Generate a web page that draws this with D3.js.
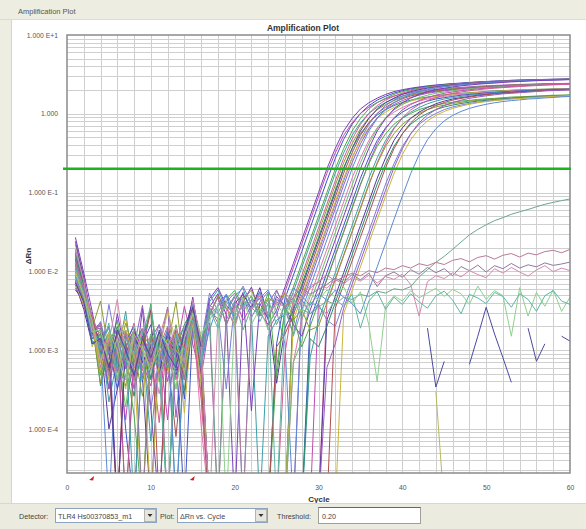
<!DOCTYPE html>
<html><head><meta charset="utf-8">
<script src="https://cdn.jsdelivr.net/npm/d3@7"></script>
<style>
html,body{margin:0;padding:0;background:#fff;}
svg{display:block;font-family:"Liberation Sans",Arial,sans-serif;}
</style></head><body>
<svg id="chart" width="586" height="529"></svg>
<script>
// ---------------- DATA ----------------
const xTicks = [0, 10, 20, 30, 40, 50, 60];
const yTickValues = [10, 1, 0.1, 0.01, 0.001, 0.0001];
const yTickLabels = ["1.000 E+1", "1.000", "1.000 E-1", "1.000 E-2", "1.000 E-3", "1.000 E-4"];
const threshold = 0.20;
const baselineStart = 3, baselineEnd = 15;
const detectorName = "TLR4 Hs00370853_m1";
const plotType = "\u0394Rn vs. Cycle";

// baseline ΔRn, cycles 1-16 (one row per well; 1e-5 = negative, below the axis)
const baseNoise = [
[.027,.0095,.0031,.0009,.0016,1e-5,.0011,.00042,.0034,.00018,1e-5,.0013,.00055,.0009,.0032,.0007],
[.014,.0061,.0022,.0012,.00032,.0017,.0001,1e-5,.0012,.0021,.0005,.0008,.0016,.00024,.0038,.0011],
[.0095,.0048,.0018,.0022,.0006,.0009,.00013,.0014,.0007,.00035,.0015,1e-5,.0009,.0036,.0012,.00045],
[.018,.0072,.0026,.00048,.0011,.0024,.0007,.00015,1e-5,.0016,.0008,.00055,.0021,.0007,.0045,.0006],
[.012,.0055,.0014,.0017,.00022,.0008,.0031,.00048,.0013,.00007,.001,.0018,1e-5,.0012,.0028,.0009],
[.0075,.0042,.0027,.0007,.0014,.0004,.0011,.0022,.00055,.001,.00012,.0015,.0006,.0013,.002,.00028],
[.022,.0082,.0019,.0042,.0009,.0016,1e-5,.0007,.0016,.0011,.00052,.001,.00032,.0017,.0041,.0014],
[.0068,.0033,.0012,.0014,.0001,.00032,.0009,.0017,.00045,1e-5,.0014,.0007,.0011,.00042,.0022,.0007],
[.011,.0047,.0023,.00035,.001,.002,.0008,.00026,.0013,.0033,.0006,1e-5,.001,.0021,.0033,.001],
[.016,.0066,.0016,.0018,.0007,1e-5,.0017,.001,.0006,.0014,.0021,.0008,.00008,.0011,.0019,.00048],
[.0088,.0039,.002,.0008,.0038,.001,.00042,.0018,.0009,.00018,.0008,.0016,.0012,.0006,.0042,.0012],
[.013,.0058,.0011,.0019,.00042,.0012,.0025,.0006,1e-5,.0011,.0015,.0005,.0018,.00016,.003,.00035],
[.0062,.0037,.0022,.0009,.0013,.00055,.0012,.00032,.0017,.0007,.001,.0035,.00014,.0015,.0026,.0009],
[.019,.0075,.0025,.0011,1e-5,.0015,.0006,.0019,.0008,.00045,.0013,.0007,.0016,.00052,.0037,.0007],
[.0105,.0044,.0016,.0021,.0009,.00042,.0018,.0008,.0015,.0009,.00028,.0012,.00058,.0019,.0031,.00011],
[.0082,.0052,.0019,.00052,.0016,.001,.00019,.0012,.0006,.0016,.001,1e-5,.0013,.0007,.0023,.00042],
[.024,.0083,.0022,.0013,.0006,.0029,.0009,.00045,.0015,.00055,.0018,.0009,.00048,.0012,.0047,.001],
[.0071,.004,.0014,.0016,.0011,.00032,.0013,.002,.0004,.0012,.0007,.0015,.001,1e-5,.0021,.0008],
[.0125,.0049,.0028,.0006,.0012,.0018,1e-5,.0009,.0019,.0006,.0011,.00013,.0018,.001,.0029,.00058],
[.0092,.0057,.0012,.0016,.00048,.0012,.0018,.0007,.001,.0039,.0004,.0012,.0007,.0017,.0024,.0012],
[.015,.006,.0024,.0009,.0017,.0006,.0012,1e-5,.0011,.0008,.0017,.0006,.0013,.0008,.0036,.0007],
[.0078,.0036,.0017,.0021,.0007,.0015,.00045,.0013,.0009,.00055,.0011,.002,.00042,.0011,.0018,.00024],
[.0135,.0069,.0021,.00038,.0013,.0008,.0022,.001,.00026,.0015,.0008,.0011,.0041,.0006,.0027,.001],
[.0058,.0043,.0016,.0018,.001,1e-5,.0011,.0018,.0007,.0011,.0005,.0017,.0008,.0017,.0043,.00052],
[.017,.0065,.0012,.0013,.002,.0007,.00035,.0012,.0019,.00042,.0013,.0007,.0012,.0003,.0022,.0009],
[.0099,.0045,.0026,.001,.00055,.0017,.0012,.0006,.001,.0032,1e-5,.001,.0018,.0011,.0034,.00045],
[.0115,.0053,.0015,.0023,.0009,.0011,.0007,.0016,.00048,.001,.0021,.0008,.0006,.0019,.0016,.0012],
[.0069,.0038,.0021,.00055,.0016,.00042,.0018,.0008,.0014,1e-5,.0009,.0014,.001,.0007,.003,.0007],
[.0145,.0056,.0018,.0019,.00032,.0014,.00058,.0011,.0037,.0007,.0016,.0004,.0016,.0012,.0025,.0009],
[.0084,.0048,.0013,.0012,.0019,.0008,.0016,.00052,.0009,.0014,.0006,.0019,1e-5,.0009,.0039,.00058],
[.0105,.0042,.0023,.0008,.0011,.0019,.0007,.0013,.00042,.0016,.001,.00058,.0013,.002,.0028,.0013],
[.0125,.0063,.0027,.0014,.00048,.001,.0017,.0004,.0012,.0007,.0014,.0034,.0008,.00042,.0023,.001],
[.0076,.0045,.0019,.002,.001,.00052,.0011,.0018,1e-5,.001,.0017,.0007,.0012,.0016,.0032,.0008],
[.0185,.0076,.0021,.0007,.0013,.0044,.0008,.0006,.0019,.0012,.00045,.0011,.0019,.0007,.0044,.0012],
[.0094,.005,.0017,.0018,.0007,.0014,.00042,.002,.0011,.00052,.0016,.0012,.00032,.0014,.0029,.0016],
[.0112,.0054,.0022,.001,.0022,.0004,.0014,.0009,.0016,.0036,.0007,1e-5,.0016,.001,.0024,.0007],
[.0072,.0041,.0012,.0014,.0006,.0018,.001,.00048,.0014,.0008,.0017,.0009,.0006,.0017,.0035,.0011],
[.0101,.0048,.0024,.0007,.0017,.001,.00032,.0016,.001,.0006,.001,.0031,.0013,.00052,.0021,.0004]
];

// amplified wells: first cycle of the exponential part
const ampStart = [25,26,25,26,26,27,27,27,27,27,28,27,28,28,28,29,29,29,30,29,30,31,30,31,31,32,32,33,33,35];

// amplified wells: ΔRn from cycle 17 up to ampStart-1
const midNoise = [
[.0035,.0052,.0028,1e-5,.0041,.0063,.003,.0021],
[1e-5,1e-5,1e-5,1e-5,1e-5,1e-5,1e-5,1e-5,.0012],
[.0022,1e-5,.0031,.0047,.0024,.0036,.0055,.0018],
[1e-5,1e-5,1e-5,1e-5,1e-5,1e-5,1e-5,1e-5,.0006],
[.0041,.0058,.0033,.0049,.0061,.0029,1e-5,.0015,.0024],
[1e-5,1e-5,1e-5,1e-5,1e-5,1e-5,1e-5,1e-5,1e-5,.0009],
[1e-5,1e-5,1e-5,1e-5,1e-5,1e-5,1e-5,1e-5,1e-5,1e-5],
[.0029,.0047,.0021,.0039,.0051,.0034,.0062,.0027,.00038,.0019],
[1e-5,1e-5,1e-5,1e-5,1e-5,1e-5,1e-5,1e-5,1e-5,1e-5],
[1e-5,1e-5,1e-5,1e-5,1e-5,1e-5,1e-5,1e-5,.0011,.0016],
[.0053,.0031,.00032,.0042,.0065,.0038,.0045,.0024,.0057,.0033,.0016],
[1e-5,1e-5,1e-5,1e-5,1e-5,1e-5,1e-5,1e-5,1e-5,1e-5],
[1e-5,1e-5,1e-5,1e-5,1e-5,1e-5,1e-5,1e-5,1e-5,1e-5,1e-5],
[.0018,.0038,.0051,.0026,1e-5,.0033,.0046,.0058,.0031,.0012,1e-5],
[1e-5,1e-5,1e-5,1e-5,1e-5,1e-5,1e-5,1e-5,1e-5,1e-5,.0007],
[1e-5,1e-5,1e-5,1e-5,1e-5,1e-5,1e-5,1e-5,1e-5,1e-5,.0007,.0013],
[.0045,.0062,.0037,.0028,.0054,.00017,.0039,.0025,.0048,.0036,.0021,.0015],
[1e-5,1e-5,1e-5,1e-5,1e-5,1e-5,1e-5,1e-5,1e-5,1e-5,1e-5,1e-5],
[1e-5,1e-5,1e-5,1e-5,1e-5,1e-5,1e-5,1e-5,1e-5,1e-5,1e-5,1e-5,1e-5],
[.0032,.0025,.0044,.0057,.0036,.0049,.0028,.0053,.00045,.0034,.0026,.0011],
[1e-5,1e-5,1e-5,1e-5,1e-5,1e-5,1e-5,1e-5,1e-5,1e-5,1e-5,1e-5,.0008],
[1e-5,1e-5,1e-5,1e-5,1e-5,1e-5,1e-5,1e-5,1e-5,1e-5,1e-5,1e-5,1e-5,1e-5],
[.0027,.0049,.0034,.0021,.0043,.0058,.0031,.0046,.0039,.0052,.0024,.0033,.0018],
[1e-5,1e-5,1e-5,1e-5,1e-5,1e-5,1e-5,1e-5,1e-5,1e-5,1e-5,1e-5,1e-5,1e-5],
[1e-5,1e-5,1e-5,1e-5,1e-5,1e-5,1e-5,1e-5,1e-5,1e-5,1e-5,1e-5,.0014,.0011],
[1e-5,1e-5,1e-5,1e-5,1e-5,1e-5,1e-5,1e-5,1e-5,1e-5,1e-5,1e-5,1e-5,1e-5,1e-5],
[.0038,.0029,.0051,.0034,.0047,.0026,.0041,.0055,.0037,.0048,.0031,.0044,.0029,.0038,.0024],
[1e-5,1e-5,1e-5,1e-5,1e-5,1e-5,1e-5,1e-5,1e-5,1e-5,1e-5,1e-5,1e-5,1e-5,1e-5,1e-5],
[1e-5,1e-5,1e-5,1e-5,1e-5,1e-5,1e-5,1e-5,1e-5,1e-5,1e-5,1e-5,1e-5,1e-5,.0006,.0012],
[.0028,.0036,.0049,.0023,.0041,.0033,.0055,.0027,.0044,.0038,.0061,.0049,.0037,.0052,.0043,.0058,.0047,.0039]
];

// amplified wells: ΔRn from ampStart to cycle 60
const ampValues = [
[.0032,.0063,.0126,.0251,.0501,.1,.2,.363,.603,.871,1.15,1.38,1.58,1.76,1.91,2.02,2.11,2.19,2.26,2.32,2.37,2.42,2.45,2.5,2.54,2.57,2.6,2.63,2.66,2.68,2.69,2.71,2.73,2.74,2.75,2.77],
[.0045,.0089,.0178,.0355,.0708,.141,.272,.473,.733,1.01,1.27,1.49,1.67,1.83,1.96,2.07,2.15,2.23,2.29,2.35,2.4,2.44,2.48,2.52,2.56,2.59,2.62,2.65,2.67,2.69,2.7,2.72,2.74,2.75,2.76],
[.0028,.0055,.0111,.0221,.0441,.088,.176,.319,.531,.766,1.01,1.21,1.39,1.55,1.68,1.78,1.86,1.93,1.99,2.04,2.09,2.13,2.16,2.2,2.24,2.26,2.29,2.31,2.34,2.36,2.37,2.38,2.4,2.41,2.42,2.44],
[.0032,.0063,.0126,.0251,.0501,.1,.2,.363,.603,.871,1.15,1.38,1.58,1.76,1.91,2.02,2.11,2.19,2.26,2.32,2.37,2.42,2.45,2.5,2.54,2.57,2.6,2.63,2.66,2.68,2.69,2.71,2.73,2.74,2.75],
[.0028,.0055,.0111,.0221,.0441,.088,.176,.319,.531,.766,1.01,1.21,1.39,1.55,1.68,1.78,1.86,1.93,1.99,2.04,2.09,2.13,2.16,2.2,2.24,2.26,2.29,2.31,2.34,2.36,2.37,2.38,2.4,2.41,2.42],
[.0045,.0089,.0178,.0355,.0708,.141,.272,.473,.733,1.01,1.27,1.49,1.67,1.83,1.96,2.07,2.15,2.23,2.29,2.35,2.4,2.44,2.48,2.52,2.56,2.59,2.62,2.65,2.67,2.69,2.7,2.72,2.74,2.75],
[.004,.0078,.0157,.0312,.0623,.124,.239,.416,.645,.889,1.12,1.31,1.47,1.61,1.72,1.82,1.89,1.96,2.02,2.07,2.11,2.15,2.18,2.22,2.25,2.28,2.31,2.33,2.35,2.37,2.38,2.39,2.41,2.42],
[.0032,.0063,.0126,.0251,.0501,.1,.2,.363,.603,.871,1.15,1.38,1.58,1.76,1.91,2.02,2.11,2.19,2.26,2.32,2.37,2.42,2.45,2.5,2.54,2.57,2.6,2.63,2.66,2.68,2.69,2.71,2.73,2.74],
[.0034,.0068,.0135,.027,.0538,.107,.207,.359,.557,.768,.965,1.13,1.27,1.39,1.49,1.57,1.63,1.69,1.74,1.79,1.82,1.85,1.88,1.92,1.95,1.97,1.99,2.01,2.03,2.04,2.05,2.07,2.08,2.09],
[.0028,.0055,.0111,.0221,.0441,.088,.176,.319,.531,.766,1.01,1.21,1.39,1.55,1.68,1.78,1.86,1.93,1.99,2.04,2.09,2.13,2.16,2.2,2.24,2.26,2.29,2.31,2.34,2.36,2.37,2.38,2.4,2.41],
[.0045,.0089,.0178,.0355,.0708,.141,.272,.473,.733,1.01,1.27,1.49,1.67,1.83,1.96,2.07,2.15,2.23,2.29,2.35,2.4,2.44,2.48,2.52,2.56,2.59,2.62,2.65,2.67,2.69,2.7,2.72,2.74],
[.0024,.0048,.0096,.0191,.0381,.076,.152,.276,.458,.662,.874,1.05,1.2,1.34,1.45,1.54,1.6,1.66,1.72,1.76,1.8,1.84,1.86,1.9,1.93,1.95,1.98,2,2.02,2.04,2.04,2.06,2.07,2.08],
[.004,.0078,.0157,.0312,.0623,.124,.239,.416,.645,.889,1.12,1.31,1.47,1.61,1.72,1.82,1.89,1.96,2.02,2.07,2.11,2.15,2.18,2.22,2.25,2.28,2.31,2.33,2.35,2.37,2.38,2.39,2.41],
[.0032,.0063,.0126,.0251,.0501,.1,.2,.363,.603,.871,1.15,1.38,1.58,1.76,1.91,2.02,2.11,2.19,2.26,2.32,2.37,2.42,2.45,2.5,2.54,2.57,2.6,2.63,2.66,2.68,2.69,2.71,2.73],
[.0024,.0048,.0096,.0191,.0381,.076,.152,.276,.458,.662,.874,1.05,1.2,1.34,1.45,1.54,1.6,1.66,1.72,1.76,1.8,1.84,1.86,1.9,1.93,1.95,1.98,2,2.02,2.04,2.04,2.06,2.07],
[.004,.0078,.0157,.0312,.0623,.124,.239,.416,.645,.889,1.12,1.31,1.47,1.61,1.72,1.82,1.89,1.96,2.02,2.07,2.11,2.15,2.18,2.22,2.25,2.28,2.31,2.33,2.35,2.37,2.38,2.39],
[.0032,.0063,.0126,.0251,.0501,.1,.2,.363,.603,.871,1.15,1.38,1.58,1.76,1.91,2.02,2.11,2.19,2.26,2.32,2.37,2.42,2.45,2.5,2.54,2.57,2.6,2.63,2.66,2.68,2.69,2.71],
[.0024,.0048,.0096,.0191,.0381,.076,.152,.276,.458,.662,.874,1.05,1.2,1.34,1.45,1.54,1.6,1.66,1.72,1.76,1.8,1.84,1.86,1.9,1.93,1.95,1.98,2,2.02,2.04,2.04,2.06],
[.004,.0078,.0157,.0312,.0623,.124,.239,.416,.645,.889,1.12,1.31,1.47,1.61,1.72,1.82,1.89,1.96,2.02,2.07,2.11,2.15,2.18,2.22,2.25,2.28,2.31,2.33,2.35,2.37,2.38],
[.002,.004,.0081,.0161,.0321,.064,.128,.232,.386,.557,.736,.883,1.01,1.13,1.22,1.29,1.35,1.4,1.45,1.48,1.52,1.55,1.57,1.6,1.63,1.64,1.66,1.68,1.7,1.72,1.72,1.73],
[.0024,.0048,.0096,.0191,.0381,.076,.152,.276,.458,.662,.874,1.05,1.2,1.34,1.45,1.54,1.6,1.66,1.72,1.76,1.8,1.84,1.86,1.9,1.93,1.95,1.98,2,2.02,2.04,2.04],
[.004,.0078,.0157,.0312,.0623,.124,.239,.416,.645,.889,1.12,1.31,1.47,1.61,1.72,1.82,1.89,1.96,2.02,2.07,2.11,2.15,2.18,2.22,2.25,2.28,2.31,2.33,2.35,2.37],
[.002,.004,.0081,.0161,.0321,.064,.128,.232,.386,.557,.736,.883,1.01,1.13,1.22,1.29,1.35,1.4,1.45,1.48,1.52,1.55,1.57,1.6,1.63,1.64,1.66,1.68,1.7,1.72,1.72],
[.0024,.0048,.0096,.0191,.0381,.076,.152,.276,.458,.662,.874,1.05,1.2,1.34,1.45,1.54,1.6,1.66,1.72,1.76,1.8,1.84,1.86,1.9,1.93,1.95,1.98,2,2.02,2.04],
[.002,.004,.0081,.0161,.0321,.064,.128,.232,.386,.557,.736,.883,1.01,1.13,1.22,1.29,1.35,1.4,1.45,1.48,1.52,1.55,1.57,1.6,1.63,1.64,1.66,1.68,1.7,1.72],
[.0034,.0068,.0135,.027,.0538,.107,.207,.359,.557,.768,.965,1.13,1.27,1.39,1.49,1.57,1.63,1.69,1.74,1.79,1.82,1.85,1.88,1.92,1.95,1.97,1.99,2.01,2.03],
[.002,.004,.0081,.0161,.0321,.064,.128,.232,.386,.557,.736,.883,1.01,1.13,1.22,1.29,1.35,1.4,1.45,1.48,1.52,1.55,1.57,1.6,1.63,1.64,1.66,1.68,1.7],
[.0029,.0057,.0114,.0227,.0453,.09,.174,.303,.469,.646,.813,.954,1.07,1.17,1.25,1.32,1.38,1.43,1.47,1.5,1.54,1.56,1.59,1.61,1.64,1.66,1.68,1.7],
[.0034,.0068,.0135,.027,.0538,.107,.207,.359,.557,.768,.965,1.13,1.27,1.39,1.49,1.57,1.63,1.69,1.74,1.79,1.82,1.85,1.88,1.92,1.95,1.97,1.99,2.01],
[.0029,.0057,.0114,.0227,.0453,.09,.174,.303,.469,.646,.813,.954,1.07,1.17,1.25,1.32,1.38,1.43,1.47,1.5,1.54,1.56,1.59,1.61,1.64,1.66]
];

// non-amplified / late wells: ΔRn from cycle 17 to 60 (null = negative, not drawn)
const lateValues = [
[.0031,1e-5,.0024,.0042,.0018,.0035,.0027,.0044,.0021,.0038,.0015,.0033,.0029,.0035,.0042,.0038,.0047,.0044,.0051,.0048,.0056,.0053,.006,.0058,.0064,.0085,.0105,.013,.0155,.019,.0235,.029,.034,.039,.044,.048,.053,.057,.061,.066,.071,.075,.079,.083],
[.0029,.0046,.0021,.0037,1e-5,.0032,.0049,.0026,.0041,.0035,.0052,.0043,.0061,.0074,.009,.0075,.0085,.0095,.0088,.0102,.0096,.011,.0105,.0118,.011,.0125,.0118,.013,.0122,.0138,.0145,.0132,.015,.0158,.0143,.016,.0168,.0152,.017,.0162,.0178,.0185,.0172,.019],
[.0035,.0022,.0041,.0053,.0031,.0044,.0027,.0039,.0058,.0034,.0047,.0062,.0051,.0059,.0068,.0082,.0072,.0091,.0078,.0095,.0064,.0088,.0098,.0084,.0105,.0092,.0112,.0096,.0108,.0088,.0115,.0102,.012,.0098,.0118,.0108,.0126,.011,.0121,.0114,.0128,.0119,.0124,.0131],
[1e-5,.0026,.0038,.0019,.0045,.0033,.0051,.0028,.0042,.0055,.0037,.0048,.0066,.0072,.0061,.0078,.0069,.0084,.0075,.0089,.0071,.0086,.0079,.0092,.0068,.0027,.0074,.0088,.0081,.0096,.0085,.0102,.0091,.0083,.0108,.0095,.0112,.0098,.0087,.0104,.0118,.0099,.011,.0102],
[.0024,.0037,1e-5,.0029,.0046,.0021,.0034,.0018,.0039,.0027,.0044,.0031,.0052,.0043,.0058,.0047,.0063,.0039,.0055,.0021,.0004,.0036,.0049,.0042,.0057,.0046,.0053,.0061,.0048,.0059,.0052,.0038,.0065,.0044,.0057,.0049,.0015,.0062,.0027,.0054,.0036,.0058,.0031,.0047],
[.0033,.0019,.0042,.0027,.0036,.0048,.0023,.0039,1e-5,.0031,.0045,.0026,.0041,.0035,.0029,.0044,.0036,.0051,.0019,.0042,.0055,.0033,.0047,.0038,.0052,.0041,.0034,.0049,.0056,.0043,.0029,.0051,.0046,.0039,.0054,.0048,.0035,.0052,.0044,.0031,.0049,.0057,.0042,.0038],
[null,null,null,null,null,null,null,null,null,null,null,null,null,null,null,null,null,null,null,null,null,null,null,null,null,null,.0019,.00034,.00072,null,null,.00066,.0015,.0035,.0016,.0008,.00039,null,.0019,.00072,.0012,null,.0015,.0013],
[null,null,null,null,null,null,null,null,null,null,null,null,null,null,null,null,null,null,null,null,null,null,null,null,null,null,null,.0003,1e-5,null,null,null,null,null,null,null,null,null,null,null,null,null,null,null]
];

// ---------------- DRAWING ----------------
const W = 586, H = 529;
const plot = {left: 67, right: 570, top: 35, bottom: 473};
const palette = ['#7a3db8','#3d52c7','#c04bb3','#4cab4c','#3aa0a6','#d25d92','#8f9a2e','#55379a',
                 '#2e8c6c','#b04e4e','#7a7ed4','#c9b53a','#9a5cc2','#5a8ad6','#de78ae','#6cbf6c'];
const lateColors = ['#6aa88a','#b77a9a','#8f7a9f','#d389b0','#8fd08f','#5fb5a5','#4a4aa0','#b8b860'];

const svg = d3.select('#chart');
svg.append('rect').attr('width', W).attr('height', H).attr('fill', '#eeede2');
svg.append('rect').attr('x', 12).attr('y', 20).attr('width', W - 12).attr('height', 483).attr('fill', '#ffffff');
svg.append('line').attr('x1', 11.5).attr('x2', 11.5).attr('y1', 20).attr('y2', 503).attr('stroke', '#d6d5c8');
svg.append('line').attr('x1', 0).attr('x2', W).attr('y1', 19.5).attr('y2', 19.5).attr('stroke', '#dddccf');
svg.append('text').attr('x', 18).attr('y', 14).attr('font-size', 7.5).attr('fill', '#555').text('Amplification Plot');

const x = d3.scaleLinear().domain([0, 60]).range([plot.left, plot.right]);
const y = d3.scaleLog().domain([Math.pow(10, -4.56), 10]).range([plot.bottom, plot.top]);

// grid
const grid = svg.append('g').attr('stroke', '#cfcfcf').attr('stroke-width', 1);
d3.range(2, 60, 2).forEach(c => {
  grid.append('line').attr('x1', Math.round(x(c)) + 0.5).attr('x2', Math.round(x(c)) + 0.5)
    .attr('y1', plot.top).attr('y2', plot.bottom);
});
const hVals = [];
for (let e = -5; e <= 0; e++) for (let k = 1; k <= 9; k++) {
  const v = k * Math.pow(10, e);
  if (v > y.domain()[0] && v < 10) hVals.push(v);
}
hVals.forEach(v => {
  grid.append('line').attr('x1', plot.left).attr('x2', plot.right)
    .attr('y1', Math.round(y(v)) + 0.5).attr('y2', Math.round(y(v)) + 0.5);
});

// clip
svg.append('clipPath').attr('id', 'clip').append('rect')
  .attr('x', plot.left).attr('y', plot.top).attr('width', plot.right - plot.left).attr('height', plot.bottom - plot.top);

const line = d3.line().defined(d => d.v != null).x(d => x(d.c)).y(d => y(d.v));
const curves = svg.append('g').attr('clip-path', 'url(#clip)').attr('fill', 'none')
  .attr('stroke-width', 1).attr('stroke-linejoin', 'round');

// amplified wells
ampStart.forEach((s, i) => {
  const pts = [];
  baseNoise[i].forEach((v, j) => pts.push({c: 1 + j, v}));
  midNoise[i].forEach((v, j) => { if (17 + j < s) pts.push({c: 17 + j, v}); });
  ampValues[i].forEach((v, j) => { if (s + j <= 60) pts.push({c: s + j, v}); });
  curves.append('path').datum(pts).attr('d', line).attr('stroke', palette[i % palette.length]);
});
// late / non-amplified wells
lateValues.forEach((arr, k) => {
  const i = ampStart.length + k;
  const pts = [];
  baseNoise[i].forEach((v, j) => pts.push({c: 1 + j, v}));
  arr.forEach((v, j) => pts.push({c: 17 + j, v}));
  curves.append('path').datum(pts).attr('d', line).attr('stroke', lateColors[k]);
});

// plot frame
svg.append('rect').attr('x', plot.left).attr('y', plot.top).attr('width', plot.right - plot.left)
  .attr('height', plot.bottom - plot.top).attr('fill', 'none').attr('stroke', '#8a8a8a').attr('stroke-width', 1.5);

// threshold
svg.append('line').attr('x1', plot.left - 4).attr('x2', plot.right + 1)
  .attr('y1', y(threshold)).attr('y2', y(threshold)).attr('stroke', '#1fb21f').attr('stroke-width', 2.5);

// axes
const yAxis = svg.append('g').attr('transform', `translate(${plot.left - 6},0)`)
  .call(d3.axisLeft(y).tickValues(yTickValues).tickFormat((d, i) => yTickLabels[i]).tickSize(0));
yAxis.select('.domain').remove();
yAxis.selectAll('text').attr('font-size', 6.8).attr('fill', '#555').attr('font-family', '"Liberation Sans",Arial,sans-serif');

const xAxis = svg.append('g').attr('transform', `translate(0,${plot.bottom + 9})`)
  .call(d3.axisBottom(x).tickValues(xTicks).tickFormat(d3.format('d')).tickSize(0));
xAxis.select('.domain').remove();
xAxis.selectAll('text').attr('font-size', 6.8).attr('fill', '#555').attr('font-family', '"Liberation Sans",Arial,sans-serif');

// baseline markers
[baselineStart, baselineEnd].forEach(c => {
  svg.append('path').attr('d', `M${x(c) - 3},${plot.bottom + 7} L${x(c) + 2},${plot.bottom + 3} L${x(c) + 1},${plot.bottom + 7.5} Z`)
    .attr('fill', '#d02020');
});

// titles
svg.append('text').attr('x', 303).attr('y', 31).attr('text-anchor', 'middle')
  .attr('font-size', 8.5).attr('font-weight', 'bold').attr('fill', '#333').text('Amplification Plot');
svg.append('text').attr('x', 319).attr('y', 502).attr('text-anchor', 'middle')
  .attr('font-size', 8).attr('font-weight', 'bold').attr('fill', '#333').text('Cycle');
svg.append('text').attr('transform', 'translate(31,256) rotate(-90)').attr('text-anchor', 'middle')
  .attr('font-size', 8).attr('font-weight', 'bold').attr('fill', '#333').text('\u0394Rn');

// bottom control bar
const bar = svg.append('g');
bar.append('rect').attr('x', 0).attr('y', 504).attr('width', W).attr('height', 25).attr('fill', '#ecebdf');
bar.append('line').attr('x1', 0).attr('x2', W).attr('y1', 503.5).attr('y2', 503.5).attr('stroke', '#d8d7ca');
const lbl = (tx, t) => bar.append('text').attr('x', tx).attr('y', 518.5).attr('font-size', 7.2).attr('fill', '#444').text(t);
lbl(19, 'Detector:');
lbl(160, 'Plot:');
lbl(277, 'Threshold:');
function combo(x0, w, t) {
  bar.append('rect').attr('x', x0 + 0.5).attr('y', 508.5).attr('width', w).attr('height', 14)
    .attr('fill', '#fff').attr('stroke', '#8ea3bd');
  bar.append('text').attr('x', x0 + 3).attr('y', 518.5).attr('font-size', 7.2).attr('fill', '#444').text(t);
  const bx = x0 + w - 12;
  bar.append('rect').attr('x', bx + 0.5).attr('y', 509.5).attr('width', 11).attr('height', 12)
    .attr('fill', '#e6e6df').attr('stroke', '#b5b5ad');
  bar.append('path').attr('d', `M${bx + 3.5},${514} L${bx + 8.5},${514} L${bx + 6},${517} Z`).attr('fill', '#333');
}
combo(55, 101, detectorName);
combo(177, 90, plotType);
bar.append('rect').attr('x', 318.5).attr('y', 507.5).attr('width', 102).attr('height', 16)
  .attr('fill', '#fff').attr('stroke', '#a0a098');
bar.append('line').attr('x1', 318.5).attr('x2', 420.5).attr('y1', 507.5).attr('y2', 507.5).attr('stroke', '#666');
bar.append('text').attr('x', 322).attr('y', 518.5).attr('font-size', 7.2).attr('fill', '#444').text(threshold.toFixed(2));
</script>
</body></html>
